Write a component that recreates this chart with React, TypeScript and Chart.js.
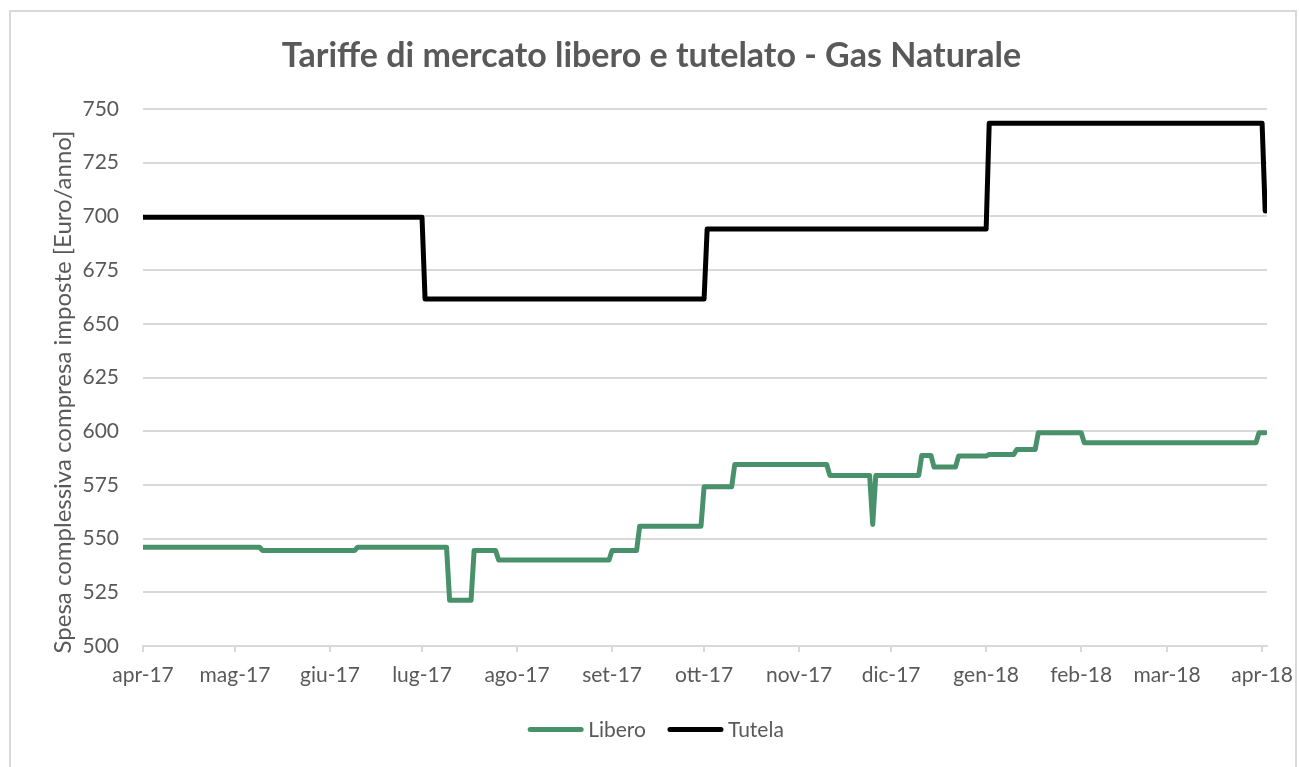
import React, { useEffect, useRef } from 'react';
import { Chart, registerables } from 'chart.js';

Chart.register(...registerables);

// Days counted from 1 April 2017
const monthStartDays = [0, 30, 61, 91, 122, 153, 183, 214, 244, 275, 306, 334, 365];
const monthLabels = ['apr-17', 'mag-17', 'giu-17', 'lug-17', 'ago-17', 'set-17', 'ott-17', 'nov-17', 'dic-17', 'gen-18', 'feb-18', 'mar-18', 'apr-18'];
const yTickValues = [500, 525, 550, 575, 600, 625, 650, 675, 700, 725, 750];

const liberoDays = [0, 38, 39, 69, 70, 99, 100, 107, 108, 115, 116, 152, 153, 161, 162, 182, 183, 192, 193, 223, 224, 237, 238, 239, 253, 254, 257, 258, 265, 266, 275, 276, 284, 285, 291, 292, 306, 307, 363, 364, 366];
const liberoValues = [546, 546, 544.5, 544.5, 546, 546, 521.3, 521.3, 544.5, 544.5, 540, 540, 544.5, 544.5, 555.8, 555.8, 574.1, 574.1, 584.5, 584.5, 579.4, 579.4, 556.6, 579.4, 579.4, 588.7, 588.7, 583.3, 583.3, 588.4, 588.4, 589.2, 589.2, 591.5, 591.5, 599.3, 599.3, 594.6, 594.6, 599.3, 599.3];

const tutelaDays = [0, 91, 92, 183, 184, 275, 276, 365, 366];
const tutelaValues = [699.6, 699.6, 661.5, 661.5, 694.1, 694.1, 743.4, 743.4, 702.5];

const TITLE = 'Tariffe di mercato libero e tutelato - Gas Naturale';
const Y_TITLE = 'Spesa complessiva compresa imposte [Euro/anno]';
const SERIES_NAMES = ['Libero', 'Tutela'];
const SERIES_COLORS = ['#49916A', '#000000'];

const TEXT = '#595959';
const GRID = '#d9d9d9';
const FONT = 'Lato';

const decorPlugin = {
  id: 'decor',
  beforeDraw(chart: any) {
    const { ctx, width, height } = chart;
    ctx.save();
    ctx.fillStyle = '#ffffff';
    ctx.fillRect(0, 0, width, height);
    ctx.strokeStyle = GRID;
    ctx.lineWidth = 2;
    ctx.beginPath();
    ctx.moveTo(10, height + 5);
    ctx.lineTo(10, 11);
    ctx.lineTo(1296, 11);
    ctx.lineTo(1296, height + 5);
    ctx.stroke();
    ctx.restore();
  },
  afterDraw(chart: any) {
    const { ctx } = chart;
    ctx.save();
    // Title
    ctx.fillStyle = TEXT;
    ctx.font = `bold 34px ${FONT}`;
    ctx.textAlign = 'center';
    ctx.textBaseline = 'alphabetic';
    ctx.fillText(TITLE, 651.5, 67);

    // Y axis title
    ctx.save();
    ctx.translate(71, 392);
    ctx.rotate(-Math.PI / 2);
    ctx.font = `24px ${FONT}`;
    ctx.textAlign = 'center';
    ctx.textBaseline = 'alphabetic';
    ctx.fillText(Y_TITLE, 0, 0);
    ctx.restore();

    // Legend
    ctx.font = `21px ${FONT}`;
    const lineLen = 55;
    const gapText = 5;
    const gapItem = 22;
    const widths = SERIES_NAMES.map((n) => ctx.measureText(n).width);
    let total = 0;
    widths.forEach((w, i) => {
      total += lineLen + gapText + w + (i < widths.length - 1 ? gapItem : 0);
    });
    let x = 656 - total / 2;
    const ly = 729.5;
    SERIES_NAMES.forEach((n, i) => {
      ctx.strokeStyle = SERIES_COLORS[i];
      ctx.lineWidth = 5;
      ctx.lineCap = 'round';
      ctx.beginPath();
      ctx.moveTo(x + 2, ly);
      ctx.lineTo(x + lineLen - 2, ly);
      ctx.stroke();
      ctx.fillStyle = TEXT;
      ctx.textAlign = 'left';
      ctx.textBaseline = 'alphabetic';
      ctx.fillText(n, x + lineLen + gapText, 736.5);
      x += lineLen + gapText + widths[i] + gapItem;
    });
    ctx.restore();
  },
};

export default function App() {
  const canvasRef = useRef<HTMLCanvasElement | null>(null);

  useEffect(() => {
    const canvas = canvasRef.current;
    if (!canvas) return;
    const libero = liberoDays.map((d, i) => ({ x: d, y: liberoValues[i] }));
    const tutela = tutelaDays.map((d, i) => ({ x: d, y: tutelaValues[i] }));

    const chart = new Chart(canvas, {
      type: 'line',
      data: {
        datasets: [
          {
            label: SERIES_NAMES[0],
            data: libero,
            borderColor: SERIES_COLORS[0],
            backgroundColor: SERIES_COLORS[0],
            borderWidth: 5,
            pointRadius: 0,
            tension: 0,
            borderJoinStyle: 'round',
            borderCapStyle: 'round',
          },
          {
            label: SERIES_NAMES[1],
            data: tutela,
            borderColor: SERIES_COLORS[1],
            backgroundColor: SERIES_COLORS[1],
            borderWidth: 5,
            pointRadius: 0,
            tension: 0,
            borderJoinStyle: 'round',
            borderCapStyle: 'round',
          },
        ],
      },
      options: {
        responsive: false,
        animation: false,
        devicePixelRatio: 1,
        parsing: false,
        layout: { padding: { left: 11, right: 32, top: 109, bottom: 71 } },
        plugins: {
          legend: { display: false },
          title: { display: false },
          tooltip: { enabled: false },
        },
        scales: {
          x: {
            type: 'linear',
            min: 0,
            max: 366.6,
            afterBuildTicks: (scale: any) => {
              scale.ticks = monthStartDays.map((v) => ({ value: v }));
            },
            afterFit: (scale: any) => {
              scale.height = 50;
              scale.paddingLeft = 0;
              scale.paddingRight = 0;
            },
            ticks: {
              autoSkip: false,
              maxRotation: 0,
              minRotation: 0,
              padding: 11,
              color: TEXT,
              font: { family: FONT, size: 21 },
              callback: (v: any) => {
                const i = monthStartDays.indexOf(Number(v));
                return i >= 0 ? monthLabels[i] : '';
              },
            },
            grid: { drawOnChartArea: false, drawTicks: true, tickLength: 6, color: GRID, lineWidth: 2 },
            border: { color: GRID, width: 2 },
          },
          y: {
            type: 'linear',
            min: 500,
            max: 750,
            afterBuildTicks: (scale: any) => {
              scale.ticks = yTickValues.map((v) => ({ value: v }));
            },
            afterFit: (scale: any) => {
              scale.width = 132;
              scale.paddingTop = 0;
              scale.paddingBottom = 0;
            },
            ticks: {
              padding: 24,
              color: TEXT,
              font: { family: FONT, size: 21 },
            },
            grid: { color: GRID, lineWidth: 2, drawTicks: false },
            border: { display: false },
          },
        },
      } as any,
      plugins: [decorPlugin],
    });
    return () => chart.destroy();
  }, []);

  return (
    <div style={{ position: 'absolute', left: 0, top: 0, width: 1299, height: 767, background: '#fff' }}>
      <canvas ref={canvasRef} width={1299} height={767} style={{ width: 1299, height: 767, display: 'block' }} />
    </div>
  );
}
